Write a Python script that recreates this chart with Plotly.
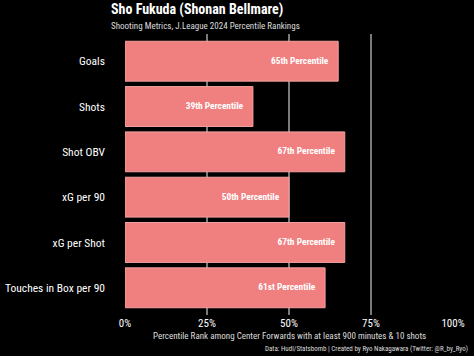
import plotly.graph_objects as go

metrics = ["Goals", "Shots", "Shot OBV", "xG per 90", "xG per Shot", "Touches in Box per 90"]
percentiles = [65, 39, 67, 50, 67, 61]
labels = ["65th Percentile", "39th Percentile", "67th Percentile", "50th Percentile",
          "67th Percentile", "61st Percentile"]
x_ticks = [0, 25, 50, 75, 100]
x_tick_text = ["0%", "25%", "50%", "75%", "100%"]

FONT = "Roboto Condensed, Liberation Sans Narrow, Roboto, sans-serif"

fig = go.Figure()
fig.add_trace(go.Bar(
    x=percentiles, y=metrics, orientation="h",
    marker=dict(color="#F08080", line=dict(color="#F4A0A0", width=1)),
    width=0.88, hoverinfo="skip",
))
fig.add_trace(go.Scatter(
    x=[p - 3 for p in percentiles], y=metrics, mode="text", text=labels,
    textposition="middle left",
    textfont=dict(family=FONT, size=9.4, color="white", weight="bold"),
    hoverinfo="skip",
))

fig.update_layout(
    width=474, height=356,
    paper_bgcolor="black", plot_bgcolor="black",
    margin=dict(l=125, r=21, t=34, b=41, autoexpand=False),
    showlegend=False,
    font=dict(family=FONT, color="white"),
    xaxis=dict(range=[0, 100], tickvals=x_ticks, ticktext=x_tick_text,
               showgrid=True, gridcolor="#7a7a7a", gridwidth=1.5,
               zeroline=False, showline=False, automargin=False,
               tickfont=dict(size=11, color="white"), ticks="", fixedrange=True),
    yaxis=dict(categoryorder="array", categoryarray=metrics[::-1],
               range=[-0.6, 5.6], showgrid=False, zeroline=False, automargin=False,
               tickfont=dict(size=11.5, color="white"), ticks="", ticklabelstandoff=19,
               fixedrange=True),
)

fig.add_annotation(text="<b>Sho Fukuda (Shonan Bellmare)</b>", xref="paper", yref="paper",
                   x=-16/328, y=1, yshift=14, xanchor="left", yanchor="bottom",
                   showarrow=False, font=dict(size=14, color="white", family=FONT))
fig.add_annotation(text="Shooting Metrics, J.League 2024 Percentile Rankings",
                   xref="paper", yref="paper",
                   x=-16/328, y=1, yshift=1, xanchor="left", yanchor="bottom",
                   showarrow=False, font=dict(size=9, color="#dddddd", family=FONT))
fig.add_annotation(text="Percentile Rank among Center Forwards with at least 900 minutes & 10 shots",
                   xref="paper", yref="paper", x=0.5, y=0, yshift=-14,
                   xanchor="center", yanchor="top", showarrow=False,
                   font=dict(size=9, color="#dddddd", family=FONT))
fig.add_annotation(text="Data: Hudl/Statsbomb | Created by Ryo Nakagawara (Twitter: @R_by_Ryo)",
                   xref="paper", yref="paper", x=1, xshift=17, y=0, yshift=-28,
                   xanchor="right", yanchor="top", showarrow=False,
                   font=dict(size=7, color="#dddddd", family=FONT))

fig.write_html("out.html", config={"displayModeBar": False},
               post_script="document.body.style.margin='0';document.body.style.background='black';")
